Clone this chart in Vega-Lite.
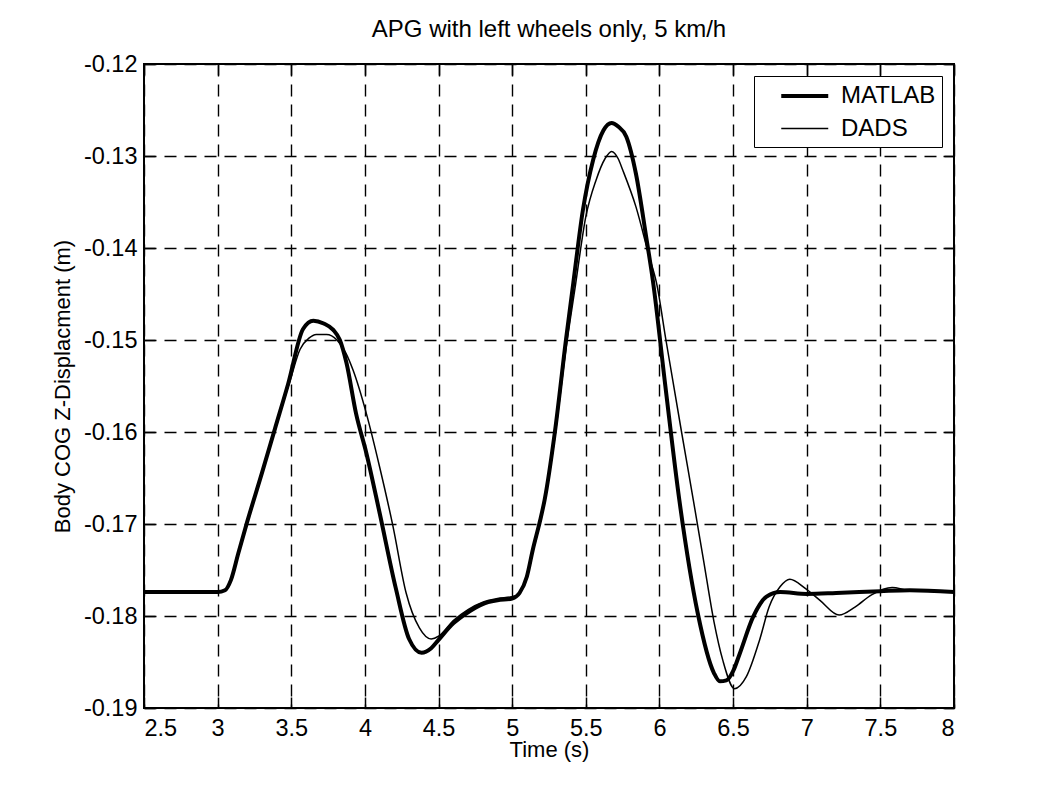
{
  "$schema": "https://vega.github.io/schema/vega-lite/v6.json",
  "width": 810,
  "height": 644,
  "autosize": {"type": "none"},
  "padding": {"left": 144, "top": 64, "right": 88, "bottom": 84},
  "background": "white",
  "title": {
    "text": "APG with left wheels only, 5 km/h",
    "font": "Liberation Sans",
    "fontSize": 24,
    "fontWeight": "normal",
    "color": "black",
    "baseline": "bottom",
    "offset": -14
  },
  "data": {
    "values": [
      {"series": "MATLAB", "t": 2.5, "z": -0.1774},
      {"series": "MATLAB", "t": 3.0, "z": -0.1774},
      {"series": "MATLAB", "t": 3.05, "z": -0.1772},
      {"series": "MATLAB", "t": 3.09, "z": -0.1761},
      {"series": "MATLAB", "t": 3.14, "z": -0.1732},
      {"series": "MATLAB", "t": 3.2, "z": -0.1698},
      {"series": "MATLAB", "t": 3.3, "z": -0.1645},
      {"series": "MATLAB", "t": 3.39, "z": -0.1596},
      {"series": "MATLAB", "t": 3.48, "z": -0.1547},
      {"series": "MATLAB", "t": 3.58, "z": -0.1488},
      {"series": "MATLAB", "t": 3.65, "z": -0.1479},
      {"series": "MATLAB", "t": 3.72, "z": -0.1482},
      {"series": "MATLAB", "t": 3.785, "z": -0.1489},
      {"series": "MATLAB", "t": 3.83, "z": -0.15},
      {"series": "MATLAB", "t": 3.875, "z": -0.1525},
      {"series": "MATLAB", "t": 3.94, "z": -0.158},
      {"series": "MATLAB", "t": 4.01, "z": -0.1623},
      {"series": "MATLAB", "t": 4.1, "z": -0.1688},
      {"series": "MATLAB", "t": 4.21, "z": -0.177},
      {"series": "MATLAB", "t": 4.3, "z": -0.1825},
      {"series": "MATLAB", "t": 4.385, "z": -0.184},
      {"series": "MATLAB", "t": 4.45, "z": -0.1835},
      {"series": "MATLAB", "t": 4.5, "z": -0.1826},
      {"series": "MATLAB", "t": 4.6, "z": -0.1808},
      {"series": "MATLAB", "t": 4.69, "z": -0.1797},
      {"series": "MATLAB", "t": 4.8, "z": -0.1787},
      {"series": "MATLAB", "t": 4.9, "z": -0.1783},
      {"series": "MATLAB", "t": 5.0, "z": -0.1781},
      {"series": "MATLAB", "t": 5.05, "z": -0.1775},
      {"series": "MATLAB", "t": 5.1, "z": -0.1757},
      {"series": "MATLAB", "t": 5.14, "z": -0.1728},
      {"series": "MATLAB", "t": 5.19, "z": -0.1696},
      {"series": "MATLAB", "t": 5.22, "z": -0.1674},
      {"series": "MATLAB", "t": 5.29, "z": -0.16},
      {"series": "MATLAB", "t": 5.365, "z": -0.15},
      {"series": "MATLAB", "t": 5.415, "z": -0.1438},
      {"series": "MATLAB", "t": 5.48, "z": -0.1359},
      {"series": "MATLAB", "t": 5.55, "z": -0.1304},
      {"series": "MATLAB", "t": 5.62, "z": -0.1272},
      {"series": "MATLAB", "t": 5.675, "z": -0.1264},
      {"series": "MATLAB", "t": 5.72, "z": -0.1268},
      {"series": "MATLAB", "t": 5.775, "z": -0.1279},
      {"series": "MATLAB", "t": 5.84, "z": -0.1319},
      {"series": "MATLAB", "t": 5.91, "z": -0.1388},
      {"series": "MATLAB", "t": 5.955, "z": -0.1435},
      {"series": "MATLAB", "t": 6.04, "z": -0.155},
      {"series": "MATLAB", "t": 6.135, "z": -0.1674},
      {"series": "MATLAB", "t": 6.26, "z": -0.1797},
      {"series": "MATLAB", "t": 6.37, "z": -0.1862},
      {"series": "MATLAB", "t": 6.41, "z": -0.1871},
      {"series": "MATLAB", "t": 6.455, "z": -0.187},
      {"series": "MATLAB", "t": 6.5, "z": -0.186},
      {"series": "MATLAB", "t": 6.545, "z": -0.1841},
      {"series": "MATLAB", "t": 6.636, "z": -0.1801},
      {"series": "MATLAB", "t": 6.727, "z": -0.1779},
      {"series": "MATLAB", "t": 6.82, "z": -0.1774},
      {"series": "MATLAB", "t": 7.0, "z": -0.1776},
      {"series": "MATLAB", "t": 7.2, "z": -0.1775},
      {"series": "MATLAB", "t": 7.5, "z": -0.1773},
      {"series": "MATLAB", "t": 7.7, "z": -0.1772},
      {"series": "MATLAB", "t": 8.0, "z": -0.1774},
      {"series": "DADS", "t": 2.5, "z": -0.1774},
      {"series": "DADS", "t": 3.0, "z": -0.1774},
      {"series": "DADS", "t": 3.05, "z": -0.1772},
      {"series": "DADS", "t": 3.09, "z": -0.1761},
      {"series": "DADS", "t": 3.14, "z": -0.1732},
      {"series": "DADS", "t": 3.2, "z": -0.1699},
      {"series": "DADS", "t": 3.3, "z": -0.1645},
      {"series": "DADS", "t": 3.39, "z": -0.1596},
      {"series": "DADS", "t": 3.49, "z": -0.1545},
      {"series": "DADS", "t": 3.56, "z": -0.151},
      {"series": "DADS", "t": 3.62, "z": -0.1498},
      {"series": "DADS", "t": 3.67, "z": -0.1494},
      {"series": "DADS", "t": 3.74, "z": -0.1494},
      {"series": "DADS", "t": 3.81, "z": -0.15},
      {"series": "DADS", "t": 3.87, "z": -0.1514},
      {"series": "DADS", "t": 3.92, "z": -0.1533},
      {"series": "DADS", "t": 4.01, "z": -0.158},
      {"series": "DADS", "t": 4.1, "z": -0.1638},
      {"series": "DADS", "t": 4.19, "z": -0.1702},
      {"series": "DADS", "t": 4.28, "z": -0.1775},
      {"series": "DADS", "t": 4.37, "z": -0.1813},
      {"series": "DADS", "t": 4.45, "z": -0.1825},
      {"series": "DADS", "t": 4.5, "z": -0.1822},
      {"series": "DADS", "t": 4.6, "z": -0.1805},
      {"series": "DADS", "t": 4.7, "z": -0.1793},
      {"series": "DADS", "t": 4.8, "z": -0.1785},
      {"series": "DADS", "t": 4.9, "z": -0.1781},
      {"series": "DADS", "t": 5.0, "z": -0.1779},
      {"series": "DADS", "t": 5.05, "z": -0.1775},
      {"series": "DADS", "t": 5.1, "z": -0.1758},
      {"series": "DADS", "t": 5.14, "z": -0.173},
      {"series": "DADS", "t": 5.19, "z": -0.1698},
      {"series": "DADS", "t": 5.22, "z": -0.1676},
      {"series": "DADS", "t": 5.29, "z": -0.1605},
      {"series": "DADS", "t": 5.365, "z": -0.151},
      {"series": "DADS", "t": 5.43, "z": -0.144},
      {"series": "DADS", "t": 5.5, "z": -0.1366},
      {"series": "DADS", "t": 5.57, "z": -0.1326},
      {"series": "DADS", "t": 5.63, "z": -0.1303},
      {"series": "DADS", "t": 5.675, "z": -0.1295},
      {"series": "DADS", "t": 5.72, "z": -0.1303},
      {"series": "DADS", "t": 5.75, "z": -0.1315},
      {"series": "DADS", "t": 5.84, "z": -0.1355},
      {"series": "DADS", "t": 5.93, "z": -0.1409},
      {"series": "DADS", "t": 5.98, "z": -0.1438},
      {"series": "DADS", "t": 6.044, "z": -0.15},
      {"series": "DADS", "t": 6.15, "z": -0.16},
      {"series": "DADS", "t": 6.23, "z": -0.1674},
      {"series": "DADS", "t": 6.3, "z": -0.174},
      {"series": "DADS", "t": 6.37, "z": -0.1806},
      {"series": "DADS", "t": 6.43, "z": -0.1848},
      {"series": "DADS", "t": 6.51, "z": -0.1879},
      {"series": "DADS", "t": 6.59, "z": -0.1866},
      {"series": "DADS", "t": 6.68, "z": -0.1826},
      {"series": "DADS", "t": 6.745, "z": -0.179},
      {"series": "DADS", "t": 6.82, "z": -0.1768},
      {"series": "DADS", "t": 6.885, "z": -0.176},
      {"series": "DADS", "t": 6.99, "z": -0.177},
      {"series": "DADS", "t": 7.09, "z": -0.1783},
      {"series": "DADS", "t": 7.22, "z": -0.1799},
      {"series": "DADS", "t": 7.33, "z": -0.179},
      {"series": "DADS", "t": 7.44, "z": -0.1777},
      {"series": "DADS", "t": 7.58, "z": -0.1769},
      {"series": "DADS", "t": 7.69, "z": -0.1772},
      {"series": "DADS", "t": 8.0, "z": -0.1774}
    ]
  },
  "layer": [
    {
      "mark": {"type": "line", "color": "black", "interpolate": "monotone"},
      "encoding": {
        "x": {
          "field": "t",
          "type": "quantitative",
          "scale": {"domain": [2.5, 8], "nice": false, "zero": false},
          "axis": {
            "title": "Time (s)",
            "values": [2.5, 3, 3.5, 4, 4.5, 5, 5.5, 6, 6.5, 7, 7.5, 8],
            "labelExpr": "format(datum.value, '.2~f')",
            "grid": true,
            "tickSize": -11,
            "labelPadding": 19,
            "titlePadding": 0
          }
        },
        "y": {
          "field": "z",
          "type": "quantitative",
          "scale": {"domain": [-0.19, -0.12], "nice": false, "zero": false},
          "axis": {
            "title": "Body COG Z-Displacment (m)",
            "values": [-0.19, -0.18, -0.17, -0.16, -0.15, -0.14, -0.13, -0.12],
            "labelExpr": "'-' + format(-datum.value, '.2f')",
            "grid": true,
            "tickSize": -11,
            "labelPadding": 18,
            "titlePadding": 9
          }
        },
        "strokeWidth": {
          "field": "series",
          "type": "nominal",
          "scale": {"domain": ["MATLAB", "DADS"], "range": [4, 1.5]},
          "legend": {"title": null}
        }
      }
    },
    {
      "mark": {"type": "line", "strokeOpacity": 0},
      "encoding": {
        "x": {
          "field": "t",
          "type": "quantitative",
          "axis": {
            "orient": "top",
            "values": [2.5, 3, 3.5, 4, 4.5, 5, 5.5, 6, 6.5, 7, 7.5, 8],
            "labels": false,
            "title": null,
            "grid": false,
            "tickSize": -11
          }
        },
        "y": {
          "field": "z",
          "type": "quantitative",
          "axis": {
            "orient": "right",
            "values": [-0.19, -0.18, -0.17, -0.16, -0.15, -0.14, -0.13, -0.12],
            "labels": false,
            "title": null,
            "grid": false,
            "tickSize": -11
          }
        },
        "detail": {"field": "series"}
      }
    }
  ],
  "resolve": {"axis": {"x": "independent", "y": "independent"}},
  "config": {
    "font": "Liberation Sans",
    "view": {"stroke": "black", "strokeWidth": 2},
    "axis": {
      "domain": false,
      "labelFont": "Liberation Sans",
      "labelFontSize": 23.5,
      "labelColor": "black",
      "titleFont": "Liberation Sans",
      "titleFontSize": 22,
      "titleFontWeight": "normal",
      "titleColor": "black",
      "tickColor": "black",
      "tickWidth": 1.5,
      "gridColor": "black",
      "gridOpacity": 1,
      "gridWidth": 1.4,
      "gridDash": [12, 8]
    },
    "legend": {
      "orient": "top-right",
      "offset": 12,
      "strokeColor": "black",
      "fillColor": "white",
      "padding": 6,
      "labelFont": "Liberation Sans",
      "labelFontSize": 24,
      "labelColor": "black",
      "labelOffset": 34,
      "symbolSize": 552,
      "symbolOffset": 19,
      "symbolStrokeColor": "black",
      "symbolType": "M-1,0H3",
      "rowPadding": 8
    }
  }
}
